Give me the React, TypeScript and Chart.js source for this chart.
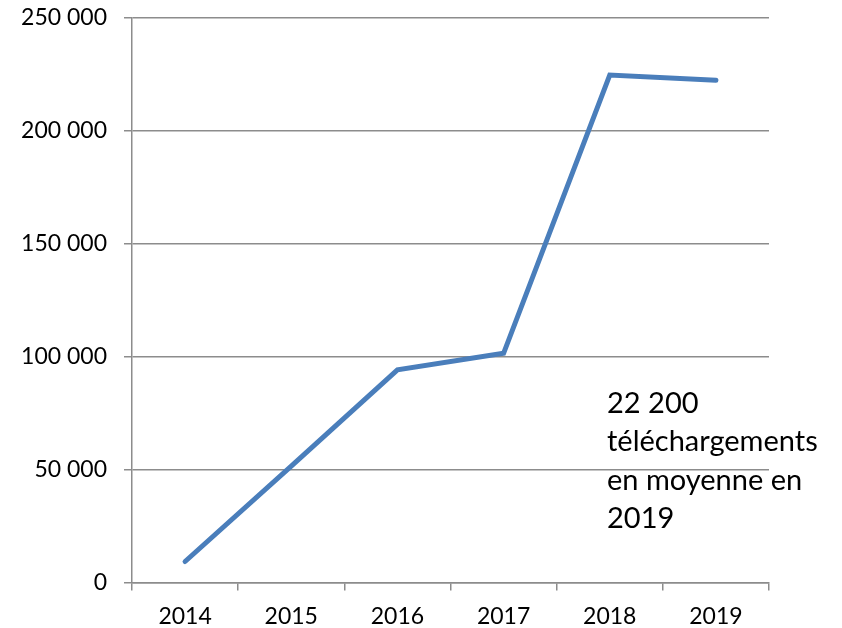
import React, { useEffect, useRef } from "react";
import { Chart, registerables } from "chart.js";

Chart.register(...registerables);

const years: string[] = ["2014", "2015", "2016", "2017", "2018", "2019"];
const downloads: number[] = [9300, 51500, 94200, 101500, 224700, 222400];
const noteLines: string[] = ["22 200", "téléchargements", "en moyenne en", "2019"];

const FONT = "Lato, 'Open Sans', sans-serif";

function fmt(v: number): string {
  const s = Math.round(v).toString();
  return s.replace(/\B(?=(\d{3})+(?!\d))/g, " ");
}

const notePlugin = {
  id: "noteText",
  afterDraw(chart: any) {
    const ctx = chart.ctx;
    ctx.save();
    ctx.fillStyle = "#000000";
    ctx.font = `29px ${FONT}`;
    ctx.textAlign = "left";
    ctx.textBaseline = "alphabetic";
    const x = 607;
    const y0 = 413;
    const lh = 38.3;
    noteLines.forEach((t, i) => ctx.fillText(t, x, y0 + i * lh));
    ctx.restore();
  },
};

export default function App() {
  const ref = useRef<HTMLCanvasElement | null>(null);
  useEffect(() => {
    if (!ref.current) return;
    const chart = new Chart(ref.current, {
      type: "line",
      data: {
        labels: years,
        datasets: [
          {
            data: downloads,
            borderColor: "#4a7ebb",
            borderWidth: 5,
            pointRadius: 0,
            tension: 0,
            fill: false,
            borderCapStyle: "round",
            borderJoinStyle: "miter",
          },
        ],
      },
      options: {
        animation: false,
        responsive: false,
        maintainAspectRatio: false,
        layout: { padding: { left: 0, right: 73, top: 18, bottom: 0 } },
        plugins: { legend: { display: false }, tooltip: { enabled: false } },
        scales: {
          x: {
            offset: true,
            grid: {
              offset: true,
              drawOnChartArea: false,
              drawTicks: true,
              tickLength: 8,
              color: "#8c8c8c",
              lineWidth: 1.5,
            },
            border: { display: true, color: "#8c8c8c", width: 1.5 },
            ticks: { color: "#000000", font: { family: FONT, size: 23 }, padding: 12, maxRotation: 0 },
            afterFit: (s: any) => {
              s.height = 45.5;
              s.paddingLeft = 0;
              s.paddingRight = 0;
            },
          },
          y: {
            min: 0,
            max: 250000,
            ticks: {
              stepSize: 50000,
              color: "#000000",
              font: { family: FONT, size: 23 },
              padding: 17,
              callback: (v: any) => fmt(Number(v)),
            },
            grid: { color: "#8c8c8c", lineWidth: 1.5, tickLength: 8 },
            border: { display: true, color: "#8c8c8c", width: 1.5 },
            afterFit: (s: any) => {
              s.width = 132;
              s.paddingTop = 0;
              s.paddingBottom = 0;
            },
          },
        },
      },
      plugins: [notePlugin],
    });
    return () => chart.destroy();
  }, []);
  return (
    <div style={{ position: "fixed", left: 0, top: 0, width: 842, height: 628, background: "#ffffff" }}>
      <canvas ref={ref} width={842} height={628} style={{ display: "block" }} />
    </div>
  );
}
